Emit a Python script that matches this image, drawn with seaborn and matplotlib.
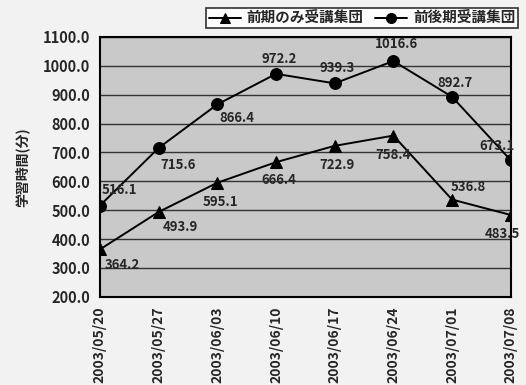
import numpy as np
import pandas as pd
import matplotlib
matplotlib.use("Agg")
import matplotlib.pyplot as plt
import seaborn as sns

## データ
dates = ["2003/05/20", "2003/05/27", "2003/06/03", "2003/06/10",
         "2003/06/17", "2003/06/24", "2003/07/01", "2003/07/08"]
early_only = [364.2, 493.9, 595.1, 666.4, 722.9, 758.4, 536.8, 483.5]
both_terms = [516.1, 715.6, 866.4, 972.2, 939.3, 1016.6, 892.7, 673.1]
series_names = ["前期のみ受講集団", "前後期受講集団"]
y_label = "学習時間(分)"

# ラベル位置 (offset in points)
early_offsets = [(16, -11), (16, -11), (2, -14), (2, -13), (2, -14), (0, -14), (12, 9), (-6, -14)]
both_offsets = [(14, 11), (14, -12), (14, -10), (2, 11), (2, 11), (2, 12), (2, 10), (-10, 10)]

sns.set_style("white")
plt.rcParams["font.family"] = ["Noto Sans CJK JP", "DejaVu Sans"]
plt.rcParams["font.weight"] = "bold"

df = pd.DataFrame({
    "idx": list(range(len(dates))) * 2,
    "value": early_only + both_terms,
    "series": [series_names[0]] * len(dates) + [series_names[1]] * len(dates),
})

fig = plt.figure(figsize=(5.26, 3.85), dpi=100, facecolor="#f2f2f2")
ax = fig.add_axes([0.190, 0.229, 0.781, 0.675])
ax.set_facecolor("#c9c9c9")

sns.lineplot(data=df, x="idx", y="value", hue="series", style="series",
             markers={series_names[0]: "^", series_names[1]: "o"},
             dashes=False, palette=["black", "black"], markersize=8.5,
             linewidth=1.4, markeredgecolor="black", ax=ax, legend=True)

for i, v in enumerate(early_only):
    ax.annotate(f"{v:.1f}", (i, v), xytext=early_offsets[i], textcoords="offset points",
                ha="center", va="center", fontsize=9.5, fontweight="bold")
for i, v in enumerate(both_terms):
    ax.annotate(f"{v:.1f}", (i, v), xytext=both_offsets[i], textcoords="offset points",
                ha="center", va="center", fontsize=9.5, fontweight="bold")

ax.set_xlim(0, len(dates) - 1)
ax.set_ylim(200, 1100)
ax.set_yticks(np.arange(200, 1101, 100))
ax.set_yticklabels([f"{t:.1f}" for t in np.arange(200, 1101, 100)], fontsize=10.5)
ax.set_xticks(range(len(dates)))
ax.set_xticklabels(dates, rotation=90, fontsize=10)
ax.tick_params(axis="x", direction="inout", length=8, width=1.2, pad=3)
ax.tick_params(axis="y", direction="out", length=4, width=1.2, pad=3)
ax.yaxis.grid(True, color="#333333", linewidth=1.0)
ax.set_axisbelow(True)
for s in ax.spines.values():
    s.set_color("black")
    s.set_linewidth(1.5)
ax.set_xlabel("")
ax.set_ylabel(y_label, fontsize=10, fontweight="bold", labelpad=10)

handles, labels = ax.get_legend_handles_labels()
ax.legend(handles, labels, ncol=2, loc="upper right", bbox_to_anchor=(0.998, 0.998),
          bbox_transform=fig.transFigure, frameon=True, fancybox=False,
          edgecolor="black", facecolor="white", fontsize=10.5, handlelength=2.2,
          handletextpad=0.4, columnspacing=0.8, borderpad=0.15, markerscale=0.85)
ax.get_legend().get_frame().set_linewidth(1.2)

fig.savefig("out.png", dpi=100, facecolor=fig.get_facecolor())
